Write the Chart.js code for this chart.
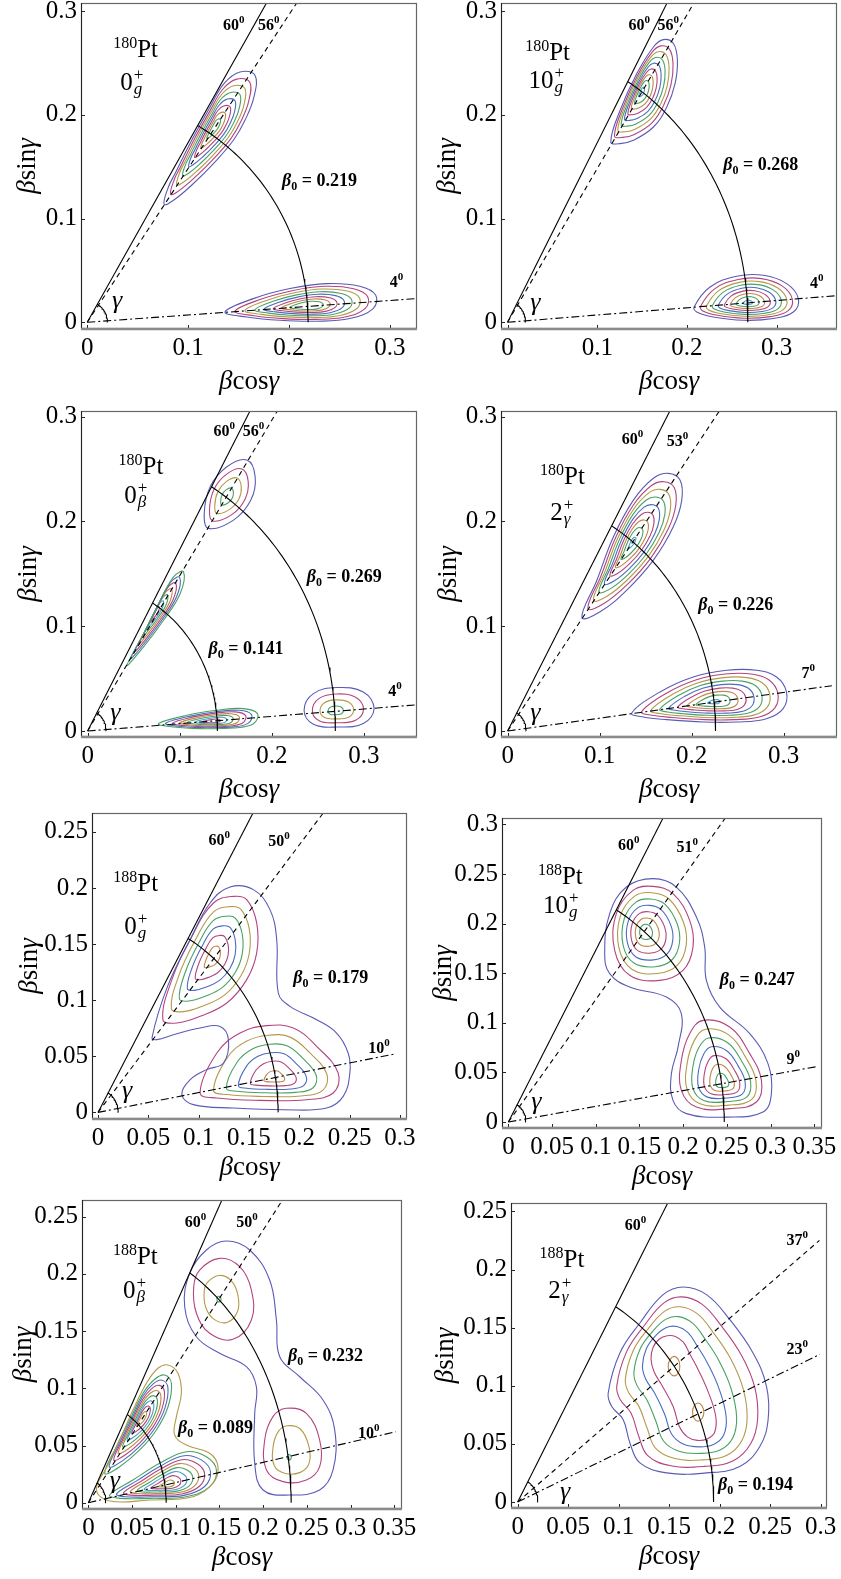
<!DOCTYPE html>
<html><head><meta charset="utf-8">
<script src="https://cdn.jsdelivr.net/npm/chart.js"></script>
<style>
html,body{margin:0;padding:0;background:#fff;width:841px;height:1579px;overflow:hidden;position:relative}
canvas{position:absolute}
</style></head><body>
<script>
// ---------------- DATA ----------------
const nucleusMass = ['180','180','180','180','188','188','188','188'];
const stateSpin = ['0','10','0','2','0','10','0','2'];
const stateBand = ['g','g','β','γ','g','g','β','γ'];

const xTickValues = [
  [0,0.1,0.2,0.3],[0,0.1,0.2,0.3],[0,0.1,0.2,0.3],[0,0.1,0.2,0.3],
  [0,0.05,0.1,0.15,0.2,0.25,0.3],
  [0,0.05,0.1,0.15,0.2,0.25,0.3,0.35],
  [0,0.05,0.1,0.15,0.2,0.25,0.3,0.35],
  [0,0.05,0.1,0.15,0.2,0.25,0.3]
];
const xTickLabels = [
  ['0','0.1','0.2','0.3'],['0','0.1','0.2','0.3'],['0','0.1','0.2','0.3'],['0','0.1','0.2','0.3'],
  ['0','0.05','0.1','0.15','0.2','0.25','0.3'],
  ['0','0.05','0.1','0.15','0.2','0.25','0.3','0.35'],
  ['0','0.05','0.1','0.15','0.2','0.25','0.3','0.35'],
  ['0','0.05','0.1','0.15','0.2','0.25','0.3']
];
const yTickValues = [
  [0,0.1,0.2,0.3],[0,0.1,0.2,0.3],[0,0.1,0.2,0.3],[0,0.1,0.2,0.3],
  [0,0.05,0.1,0.15,0.2,0.25],
  [0,0.05,0.1,0.15,0.2,0.25,0.3],
  [0,0.05,0.1,0.15,0.2,0.25],
  [0,0.05,0.1,0.15,0.2,0.25]
];
const yTickLabels = [
  ['0','0.1','0.2','0.3'],['0','0.1','0.2','0.3'],['0','0.1','0.2','0.3'],['0','0.1','0.2','0.3'],
  ['0','0.05','0.1','0.15','0.2','0.25'],
  ['0','0.05','0.1','0.15','0.2','0.25','0.3'],
  ['0','0.05','0.1','0.15','0.2','0.25'],
  ['0','0.05','0.1','0.15','0.2','0.25']
];
const xRange = [[-0.0062,0.327],[-0.0073,0.3672],[-0.0072,0.3576],[-0.0072,0.3579],
                [-0.006,0.3071],[-0.0073,0.3588],[-0.0073,0.3588],[-0.0066,0.3062]];
const yRange = [[-0.0065,0.3079],[-0.0065,0.3079],[-0.0057,0.3053],[-0.0057,0.3053],
                [-0.0059,0.2668],[-0.006,0.3065],[-0.0055,0.2646],[-0.0052,0.2573]];

const beta0 = [[0.219],[0.268],[0.141,0.269],[0.226],[0.179],[0.247],[0.089,0.232],[0.194]];
const dashedGamma = [56,56,56,53,50,51,50,37];
const dashDotGamma = [4,4,4,7,10,9,10,23];
const dashedRayLength = [1,1,1,1,1,1,1,0.374];
const dashDotRayLength = [1,1,1,0.355,0.301,0.356,0.357,0.325];

const levelColors = ['#5a5ab6','#b3447e','#b39a4b','#4aa163','#4a6cc0','#b3447e','#c0864a','#4aa163','#4aa0c8','#b3447e','#b39a4b','#4aa163'];

// contour wells: outline of the outermost ring, inner target (centre or innermost ring), ring fractions
const contours_180Pt_0g = [
  {level:0, t:[0,.13,.25,.37,.49,.61,.73,.85], inner:[[0.126,0.188]],
   outline:[[0.0762,0.1138],[0.0805,0.1305],[0.0871,0.1434],[0.1036,0.1755],[0.1218,0.2076],[0.1356,0.2302],[0.1515,0.2414],[0.1663,0.2382],[0.1653,0.2173],[0.1564,0.1948],[0.1449,0.1755],[0.1251,0.1530],[0.1053,0.1338],[0.0855,0.1176]]},
  {level:0, t:[0,.12,.24,.36,.47,.58,.68,.78], inner:[[0.219,0.0155]],
   outline:[[0.1366,0.0099],[0.1647,0.0228],[0.2010,0.0325],[0.2373,0.0373],[0.2703,0.0347],[0.2861,0.0260],[0.2835,0.0132],[0.2604,0.0036],[0.2274,0.0010],[0.1911,0.0019],[0.1581,0.0051]]}
];
const contours_180Pt_10g = [
  {level:0, t:[0,.12,.23,.34,.45,.56,.67,.78,.91], inner:[[0.149,0.222]],
   outline:[[0.1151,0.1739],[0.1255,0.2044],[0.1441,0.2398],[0.1626,0.2655],[0.1737,0.2726],[0.1849,0.2688],[0.1893,0.2527],[0.1867,0.2302],[0.1775,0.2077],[0.1626,0.1883],[0.1403,0.1755],[0.1255,0.1723]]},
  {level:0, t:[0,.12,.23,.34,.45,.56,.67,.78,.91], inner:[[0.268,0.0187]],
   outline:[[0.2079,0.0148],[0.2257,0.0340],[0.2554,0.0444],[0.2851,0.0453],[0.3111,0.0373],[0.3241,0.0229],[0.3185,0.0099],[0.2962,0.0036],[0.2628,0.0019],[0.2294,0.0051],[0.2109,0.0099]]}
];
const contours_180Pt_0b = [
  {level:0, t:[0,.24,.48,.75], inner:[[0.1504,0.223]],
   outline:[[0.1729,0.2585],[0.1819,0.2426],[0.1772,0.2203],[0.1584,0.2012],[0.1312,0.1933],[0.1266,0.2076],[0.1331,0.2331],[0.1512,0.2521]]},
  {level:3, t:[0,.13,.26,.4,.54,.68,.82], inner:[[0.072,0.111]],
   outline:[[0.0427,0.0627],[0.0572,0.0866],[0.0753,0.1184],[0.0933,0.1471],[0.1041,0.1519],[0.1005,0.1312],[0.0824,0.1057],[0.0607,0.0802]]},
  {level:3, t:[0,.13,.26,.4,.54,.68,.82], inner:[[0.135,0.0092]],
   outline:[[0.0770,0.0070],[0.1078,0.0150],[0.1403,0.0198],[0.1692,0.0214],[0.1844,0.0166],[0.1800,0.0070],[0.1584,0.0029],[0.1222,0.0023],[0.0933,0.0038]]},
  {level:0, t:[0,.27,.52,.78], inner:[[0.2683,0.0188]],
   outline:[[0.2705,0.0415],[0.2993,0.0372],[0.3110,0.0214],[0.2993,0.0071],[0.2705,0.0038],[0.2451,0.0064],[0.2350,0.0198],[0.2451,0.0357]]}
];
const contours_180Pt_2g = [
  {level:0, t:[0,.12,.23,.34,.45,.56,.67,.78,.92], inner:[[0.135,0.1795]],
   outline:[[0.0807,0.1083],[0.0970,0.1439],[0.1150,0.1853],[0.1367,0.2203],[0.1584,0.2411],[0.1746,0.2458],[0.1873,0.2394],[0.1892,0.2203],[0.1800,0.1948],[0.1584,0.1630],[0.1295,0.1344],[0.1005,0.1137]]},
  {level:0, t:[0,.12,.23,.34,.45,.56,.67,.78,.92], inner:[[0.2243,0.0275]],
   outline:[[0.1349,0.0172],[0.1656,0.0373],[0.2017,0.0516],[0.2380,0.0580],[0.2705,0.0580],[0.2922,0.0516],[0.3030,0.0373],[0.2994,0.0214],[0.2813,0.0118],[0.2488,0.0086],[0.2126,0.0086],[0.1729,0.0109],[0.1475,0.0134]]}
];
const contours_188Pt_0g = [
  {level:0, t:[0], inner:[[0.15,0.1]],
   outline:[[0.0536,0.0663],[0.0691,0.1123],[0.0916,0.1539],[0.1114,0.1866],[0.1313,0.2009],[0.1544,0.1985],[0.1709,0.1807],[0.1776,0.1539],[0.1792,0.1064],[0.1908,0.0945],[0.2173,0.0826],[0.2371,0.0707],[0.2486,0.0529],[0.2503,0.0351],[0.2437,0.0143],[0.2272,0.0039],[0.1841,0.0024],[0.1345,0.0039],[0.0948,0.0069],[0.0833,0.0158],[0.0916,0.0291],[0.1081,0.0381],[0.1247,0.0440],[0.1296,0.0648],[0.1213,0.0766],[0.1015,0.0752],[0.0750,0.0692],[0.0585,0.0648]]},
  {level:1, t:[0,.17,.33,.49,.65,.83], inner:[[0.114,0.139]],
   outline:[[0.0645,0.0826],[0.0734,0.1183],[0.0933,0.1569],[0.1147,0.1866],[0.1345,0.1925],[0.1478,0.1896],[0.1577,0.1688],[0.1577,0.1421],[0.1478,0.1183],[0.1280,0.0975],[0.1015,0.0856],[0.0784,0.0797]]},
  {level:1, t:[0,.18,.35,.51,.67,.85], inner:[[0.176,0.030]],
   outline:[[0.1015,0.0173],[0.1181,0.0529],[0.1412,0.0707],[0.1677,0.0773],[0.1941,0.0752],[0.2173,0.0588],[0.2387,0.0351],[0.2337,0.0173],[0.2073,0.0113],[0.1610,0.0107],[0.1181,0.0128]]}
];
const contours_188Pt_10g = [
  {level:0, t:[0], inner:[[0.2,0.1]],
   outline:[[0.1102,0.1698],[0.1159,0.2101],[0.1350,0.2369],[0.1654,0.2454],[0.1922,0.2369],[0.2151,0.2067],[0.2246,0.1764],[0.2265,0.1428],[0.2418,0.1159],[0.2761,0.0891],[0.2970,0.0589],[0.3009,0.0286],[0.2913,0.0101],[0.2494,0.0050],[0.2037,0.0085],[0.1883,0.0219],[0.1865,0.0488],[0.1941,0.0756],[0.1979,0.1093],[0.1808,0.1260],[0.1388,0.1361],[0.1159,0.1496]]},
  {level:1, t:[0,.14,.28,.42,.56,.7,.84], inner:[[0.156,0.192]],
   outline:[[0.1216,0.1731],[0.1235,0.2101],[0.1426,0.2336],[0.1654,0.2376],[0.1883,0.2302],[0.2074,0.2033],[0.2112,0.1764],[0.1998,0.1529],[0.1731,0.1428],[0.1388,0.1479]]},
  {level:1, t:[0,.14,.28,.42,.56,.7,.84], inner:[[0.245,0.039]],
   outline:[[0.2227,0.1025],[0.2532,0.0958],[0.2761,0.0690],[0.2895,0.0420],[0.2838,0.0202],[0.2532,0.0135],[0.2151,0.0151],[0.1979,0.0320],[0.1979,0.0622],[0.2074,0.0891]]}
];
const contours_188Pt_0b = [
  {level:0, t:[0], inner:[[0.2,0.1]],
   outline:[[0.1102,0.1713],[0.1159,0.2005],[0.1350,0.2209],[0.1579,0.2288],[0.1846,0.2209],[0.2074,0.1947],[0.2151,0.1597],[0.2189,0.1276],[0.2418,0.1101],[0.2684,0.0898],[0.2818,0.0636],[0.2799,0.0286],[0.2646,0.0111],[0.2303,0.0067],[0.1998,0.0111],[0.1903,0.0344],[0.1903,0.0781],[0.1922,0.1014],[0.1808,0.1189],[0.1502,0.1306],[0.1236,0.1451]]},
  {level:1, t:[0,.42,.93], inner:[[0.149,0.178]],
   outline:[[0.1205,0.1888],[0.1273,0.2034],[0.1502,0.2136],[0.1731,0.2063],[0.1865,0.1859],[0.1865,0.1597],[0.1654,0.1428],[0.1388,0.1481],[0.1236,0.1656]]},
  {level:1, t:[0,.35,.93], inner:[[0.2295,0.039]],
   outline:[[0.2265,0.0825],[0.2494,0.0781],[0.2646,0.0548],[0.2646,0.0315],[0.2494,0.0198],[0.2227,0.0184],[0.2037,0.0286],[0.2017,0.0548],[0.2112,0.0752]]},
  {level:2, t:[0], inner:[[0.08,0.04]],
   outline:[[0.0092,0.0111],[0.0213,0.0315],[0.0358,0.0548],[0.0510,0.0810],[0.0664,0.1044],[0.0796,0.1175],[0.0911,0.1204],[0.1025,0.1131],[0.1064,0.0956],[0.1007,0.0752],[0.0987,0.0592],[0.1121,0.0504],[0.1388,0.0432],[0.1483,0.0315],[0.1426,0.0170],[0.1197,0.0052],[0.0701,0.0024],[0.0244,0.0015]]},
  {level:3, t:[0,.12,.24,.36,.48,.6,.72,.85], inner:[[0.0615,0.074]],
   outline:[[0.0187,0.0257],[0.0320,0.0490],[0.0473,0.0723],[0.0625,0.0956],[0.0759,0.1079],[0.0873,0.1116],[0.0950,0.1044],[0.0911,0.0839],[0.0778,0.0636],[0.0587,0.0461],[0.0358,0.0315]]},
  {level:3, t:[0,.12,.24,.36,.48,.6,.72,.85], inner:[[0.090,0.0155]],
   outline:[[0.0244,0.0067],[0.0510,0.0198],[0.0816,0.0344],[0.1121,0.0446],[0.1350,0.0402],[0.1465,0.0286],[0.1388,0.0140],[0.1121,0.0052],[0.0701,0.0038],[0.0358,0.0038]]}
];
const contours_188Pt_2g = [
  {level:0, t:[0,.2,.4,.6,.8,1],
   outline:[[0.0896,0.0938],[0.1012,0.1282],[0.1210,0.1540],[0.1440,0.1784],[0.1638,0.1850],[0.1869,0.1784],[0.2100,0.1569],[0.2330,0.1282],[0.2463,0.0995],[0.2479,0.0708],[0.2397,0.0478],[0.2199,0.0306],[0.1869,0.0250],[0.1474,0.0250],[0.1210,0.0336],[0.1111,0.0508],[0.1045,0.0708],[0.0930,0.0823]],
   inner:[[0.1320,0.1230],[0.1340,0.1330],[0.1400,0.1400],[0.1480,0.1430],[0.1560,0.1425],[0.1640,0.1375],[0.1700,0.1280],[0.1770,0.1167],[0.1880,0.0960],[0.1960,0.0740],[0.1950,0.0600],[0.1880,0.0545],[0.1780,0.0530],[0.1680,0.0560],[0.1600,0.0650],[0.1540,0.0820],[0.1430,0.1000],[0.1350,0.1120]]},
  {level:6, t:[0], inner:[[0.1549,0.1168]],
   outline:[[0.1549,0.1253],[0.1590,0.1225],[0.1605,0.1168],[0.1590,0.1110],[0.1549,0.1085],[0.1508,0.1110],[0.1490,0.1168],[0.1508,0.1225]]},
  {level:6, t:[0], inner:[[0.1786,0.0758]],
   outline:[[0.1786,0.0852],[0.1826,0.0825],[0.1843,0.0773],[0.1826,0.0720],[0.1786,0.0694],[0.1746,0.0720],[0.1731,0.0773],[0.1746,0.0825]]}
];
const allContours = [contours_180Pt_0g, contours_180Pt_10g, contours_180Pt_0b, contours_180Pt_2g,
                     contours_188Pt_0g, contours_188Pt_10g, contours_188Pt_0b, contours_188Pt_2g];

// ---------------- LABEL PLACEMENT (data coords) ----------------
const angleLabelAt = [
  [[0.1347,0.2816],[0.1693,0.2816],[0.300,0.0338]],
  [[0.1347,0.2816],[0.167,0.2816],[0.337,0.0328]],
  [[0.1367,0.2815],[0.1685,0.2815],[0.3265,0.0331]],
  [[0.1241,0.2735],[0.1729,0.2722],[0.3193,0.0506]],
  [[0.1097,0.2380],[0.1692,0.2371],[0.2685,0.0529]],
  [[0.1254,0.2739],[0.1922,0.2722],[0.3181,0.0589]],
  [[0.1102,0.2413],[0.1693,0.2413],[0.3085,0.0568]],
  [[0.1061,0.2343],[0.2661,0.2214],[0.2661,0.1276]]
];
const beta0LabelAt = [
  [[0.1931,0.1312]],[[0.2405,0.1466]],[[0.1312,0.0733],[0.2380,0.1423]],[[0.2072,0.1153]],
  [[0.1941,0.1153]],[[0.2418,0.1378]],[[0.1025,0.0607],[0.2284,0.1239]],[[0.1984,0.0106]]
];
const nucleusLabelAt = [[0.0257,0.2555],[0.0196,0.2533],[0.0335,0.2452],[0.0353,0.2353],
                        [0.0152,0.1976],[0.0338,0.2396],[0.0281,0.2087],[0.0217,0.2022]];
const stateLabelAt = [[0.0327,0.2237],[0.0234,0.2263],[0.0398,0.2178],[0.0463,0.2012],
                      [0.0261,0.1590],[0.0396,0.2107],[0.0396,0.1787],[0.0303,0.1756]];
const gammaLabelAt = [[0.0245,0.0135],[0.0253,0.0116],[0.0246,0.0102],[0.0246,0.0102],
                      [0.0238,0.0128],[0.0263,0.0135],[0.0244,0.0126],[0.0418,0.0026]];

// ---------------- LAYOUT (page pixels) ----------------
const panelBox = [[81,3,336,326],[501,3,336,326],[81,411,336,326],[501,411,336,326],
                  [92,813,315,306],[502,818,320,310],[82,1200,320,309],[511,1203,316,305]];
const yTitleOffset = [53,53,52,52,62,58,58,65];
const xTitleOffset = [53,53,53,53,49,49,49,49];
const PADL = 80, PADT = 20, PADR = 30, PADB = 72;
const SERIF = '"Liberation Serif", "Times New Roman", serif';
const GAMMA_ARC_R = 0.02;

// ---------------- HELPERS ----------------
const rad = d => d * Math.PI / 180;
function ringPoints(well, t) {
  return well.outline.map((p, i) => {
    const q = well.inner.length === 1 ? well.inner[0] : well.inner[i];
    return {x: p[0] + t * (q[0] - p[0]), y: p[1] + t * (q[1] - p[1])};
  });
}
function closedData(pts) { const n = pts.length; return [pts[n-1], ...pts, pts[0], pts[1]]; }

function buildDatasets(i) {
  const ds = [];
  const line = (pts, opts) => ds.push(Object.assign({
    data: pts, showLine: true, pointRadius: 0, pointHoverRadius: 0, pointHitRadius: 0,
    borderColor: '#000', borderWidth: 1.1, tension: 0, fill: false
  }, opts));
  line([{x:0,y:0},{x:Math.cos(rad(60)), y:Math.sin(rad(60))}], {});
  const rd = dashedRayLength[i], gd = dashedGamma[i];
  line([{x:0,y:0},{x:rd*Math.cos(rad(gd)), y:rd*Math.sin(rad(gd))}], {borderDash:[5,4]});
  const rdd = dashDotRayLength[i], gdd = dashDotGamma[i];
  line([{x:0,y:0},{x:rdd*Math.cos(rad(gdd)), y:rdd*Math.sin(rad(gdd))}], {borderDash:[8,3,2,3]});
  beta0[i].forEach(b => {
    const pts = [];
    for (let a = 60; a >= 0; a -= 1) pts.push({x: b*Math.cos(rad(a)), y: b*Math.sin(rad(a))});
    line(pts, {});
  });
  const ga = [];
  for (let a = 0; a <= 60; a += 3) ga.push({x: GAMMA_ARC_R*Math.cos(rad(a)), y: GAMMA_ARC_R*Math.sin(rad(a))});
  line(ga, {});
  allContours[i].forEach(w => w.t.forEach((t, k) => {
    const data = closedData(ringPoints(w, t));
    const last = data.length - 1;
    line(data, {
      borderColor: levelColors[(w.level + k) % levelColors.length], borderWidth: 1.1, tension: 0.4,
      segment: {borderColor: c => (c.p0DataIndex === 0 || c.p1DataIndex === last) ? 'rgba(0,0,0,0)' : undefined}
    });
  }));
  return ds;
}

function drawParts(ctx, x, y, parts) {
  let cx = x;
  for (const p of parts) {
    ctx.font = p.f;
    ctx.fillText(p.t, cx, y + (p.dy || 0));
    if (!p.noAdvance) cx += ctx.measureText(p.t).width + (p.dx || 0);
  }
  return cx - x;
}
function partsWidth(ctx, parts) {
  let w = 0;
  for (const p of parts) { ctx.font = p.f; if (!p.noAdvance) w += ctx.measureText(p.t).width + (p.dx || 0); }
  return w;
}

const panelPlugin = {
  id: 'panelDecor',
  afterDatasetsDraw(chart) {
    const i = chart.options.plugins.panelDecor.index;
    const {ctx, chartArea: a, scales: {x, y}} = chart;
    const X = v => x.getPixelForValue(v), Y = v => y.getPixelForValue(v);
    ctx.save();
    // inner tick marks
    ctx.strokeStyle = '#222'; ctx.lineWidth = 1;
    ctx.beginPath();
    x.ticks.forEach(t => { const px = Math.round(X(t.value)) + 0.5; ctx.moveTo(px, a.bottom); ctx.lineTo(px, a.bottom - 4); });
    y.ticks.forEach(t => { const py = Math.round(Y(t.value)) + 0.5; ctx.moveTo(a.left, py); ctx.lineTo(a.left + 4, py); });
    ctx.stroke();
    // frame
    ctx.strokeStyle = '#666'; ctx.lineWidth = 1.2;
    ctx.strokeRect(a.left + 0.5, a.top + 0.5, a.right - a.left - 1, a.bottom - a.top - 1);
    ctx.strokeStyle = '#222'; ctx.lineWidth = 1;
    ctx.beginPath(); ctx.moveTo(a.left + 0.5, a.top); ctx.lineTo(a.left + 0.5, a.bottom); ctx.stroke();
    ctx.strokeStyle = '#8a8a8a'; ctx.lineWidth = 2.5;
    ctx.beginPath(); ctx.moveTo(a.left, a.bottom); ctx.lineTo(a.right, a.bottom); ctx.stroke();

    ctx.fillStyle = '#000'; ctx.textBaseline = 'alphabetic'; ctx.textAlign = 'left';
    // angle labels
    const angs = [60, dashedGamma[i], dashDotGamma[i]];
    angleLabelAt[i].forEach((p, k) => {
      drawParts(ctx, X(p[0]), Y(p[1]), [
        {t: String(angs[k]), f: 'bold 16px ' + SERIF},
        {t: '0', f: 'bold 11px ' + SERIF, dy: -7}
      ]);
    });
    // beta0 labels
    beta0LabelAt[i].forEach((p, k) => {
      drawParts(ctx, X(p[0]), Y(p[1]), [
        {t: 'β', f: 'italic bold 18px ' + SERIF},
        {t: '0', f: 'bold 12px ' + SERIF, dy: 4},
        {t: ' = ' + beta0[i][k].toFixed(3), f: 'bold 18px ' + SERIF}
      ]);
    });
    // nucleus
    const nl = nucleusLabelAt[i];
    drawParts(ctx, X(nl[0]), Y(nl[1]), [
      {t: nucleusMass[i], f: '16px ' + SERIF, dy: -9},
      {t: 'Pt', f: '25px ' + SERIF}
    ]);
    // state
    const sl = stateLabelAt[i];
    drawParts(ctx, X(sl[0]), Y(sl[1]), [
      {t: stateSpin[i], f: '25px ' + SERIF, dx: 1},
      {t: '+', f: '17px ' + SERIF, dy: -10, noAdvance: true},
      {t: stateBand[i], f: 'italic 17px ' + SERIF, dy: 4}
    ]);
    // gamma
    const gl = gammaLabelAt[i];
    drawParts(ctx, X(gl[0]), Y(gl[1]), [{t: 'γ', f: 'italic 26px ' + SERIF}]);

    // axis titles
    const xt = [{t:'β', f:'italic 27px ' + SERIF},{t:'cos', f:'27px ' + SERIF},{t:'γ', f:'italic 27px ' + SERIF}];
    const yt = [{t:'β', f:'italic 27px ' + SERIF},{t:'sin', f:'27px ' + SERIF},{t:'γ', f:'italic 27px ' + SERIF}];
    ctx.textBaseline = 'middle';
    const wx = partsWidth(ctx, xt);
    drawParts(ctx, (a.left + a.right) / 2 - wx / 2, a.bottom + xTitleOffset[i], xt);
    const wy = partsWidth(ctx, yt);
    ctx.translate(a.left - yTitleOffset[i], (a.top + a.bottom) / 2);
    ctx.rotate(-Math.PI / 2);
    drawParts(ctx, -wy / 2, 0, yt);
    ctx.restore();
  }
};

for (let i = 0; i < 8; i++) {
  const [L, T, W, H] = panelBox[i];
  const canvas = document.createElement('canvas');
  const cw = W + PADL + PADR, ch = H + PADT + PADB;
  canvas.width = cw; canvas.height = ch;
  canvas.style.left = (L - PADL) + 'px'; canvas.style.top = (T - PADT) + 'px';
  canvas.style.width = cw + 'px'; canvas.style.height = ch + 'px';
  document.body.appendChild(canvas);
  const tickFont = {family: SERIF, size: 25};
  new Chart(canvas.getContext('2d'), {
    type: 'scatter',
    data: {datasets: buildDatasets(i)},
    plugins: [panelPlugin],
    options: {
      responsive: false, animation: false, devicePixelRatio: 1,
      layout: {padding: {left: 0, top: PADT, right: PADR, bottom: 0}},
      plugins: {legend: {display: false}, tooltip: {enabled: false}, panelDecor: {index: i}},
      events: [],
      scales: {
        x: {
          type: 'linear', min: xRange[i][0], max: xRange[i][1],
          afterBuildTicks: s => { s.ticks = xTickValues[i].map(v => ({value: v})); },
          afterFit: s => { s.height = PADB; },
          ticks: {callback: (v, k) => xTickLabels[i][k], font: tickFont, color: '#000', padding: 4,
                  autoSkip: false, maxRotation: 0, minRotation: 0},
          grid: {display: false, drawTicks: false}, border: {display: false}
        },
        y: {
          type: 'linear', min: yRange[i][0], max: yRange[i][1],
          afterBuildTicks: s => { s.ticks = yTickValues[i].map(v => ({value: v})); },
          afterFit: s => { s.width = PADL; },
          ticks: {callback: (v, k) => yTickLabels[i][k], font: tickFont, color: '#000', padding: 4, autoSkip: false},
          grid: {display: false, drawTicks: false}, border: {display: false}
        }
      }
    }
  });
}
</script></body></html>
